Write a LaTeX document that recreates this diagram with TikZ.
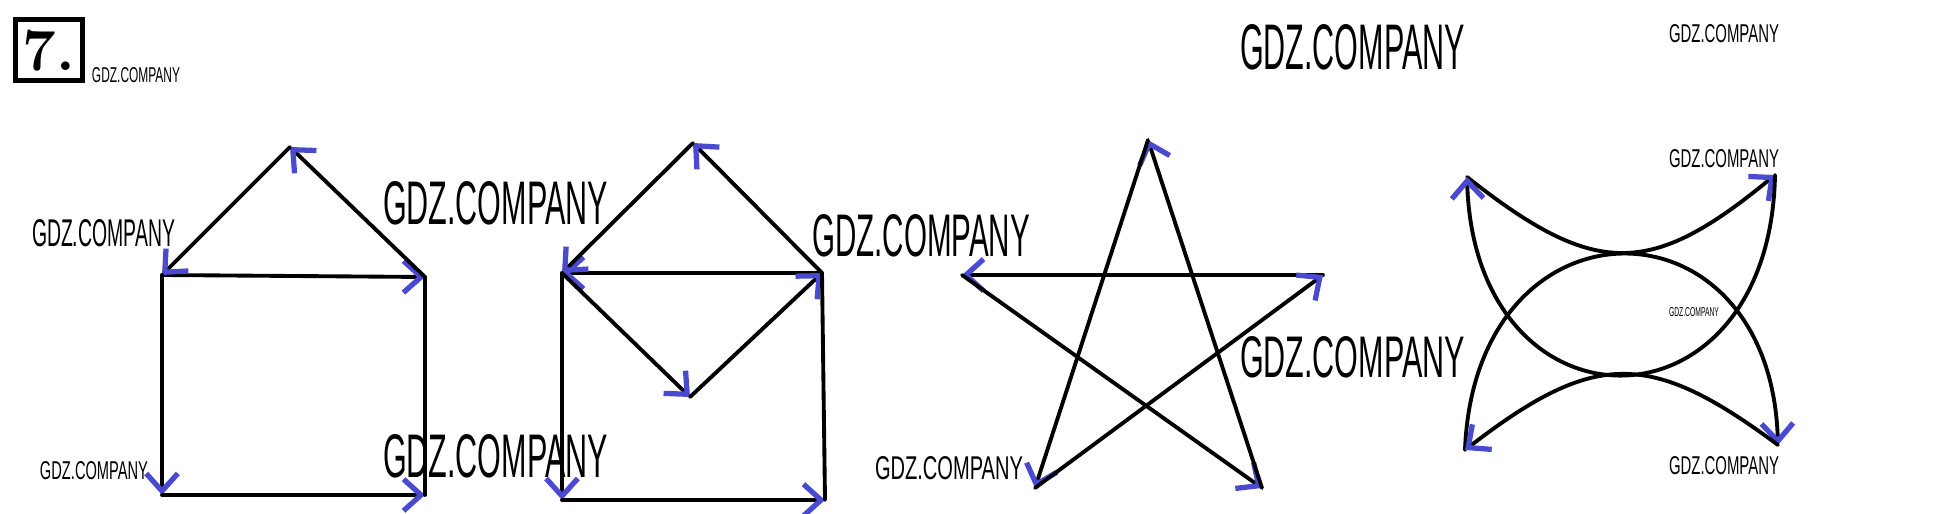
\documentclass[tikz,border=0pt]{standalone}
\usepackage{fontspec}
\setsansfont{Liberation Sans}
\usepackage{graphicx}
\usetikzlibrary{arrows.meta}
\definecolor{pencil}{HTML}{4A4AD0}
\newlength{\pxu}
\setlength{\pxu}{0.1mm}
\newcommand{\gdz}[2]{\resizebox{#1\pxu}{#2\pxu}{\sffamily GDZ.COMPANY}}

\begin{document}
\begin{tikzpicture}[x=0.1mm,y=-0.1mm,
    pen/.style={line width=1.1pt,line cap=round,line join=round},
    penarrow/.style={pen,-{Straight Barb[color=pencil,length=5pt,width=9pt,line width=1.5pt]}},
    wm/.style={anchor=north west,inner sep=0pt,outer sep=0pt}]
    \useasboundingbox (0,0) rectangle (1960,514);

    % task number in its frame
    \draw[line width=1.6pt] (15.5,19.5) rectangle (82.5,80.5);
    \node[inner sep=0pt,font=\bfseries\fontsize{17}{17}\selectfont] (num) at (49,51) {7.};

    % house: square with a roof
    \coordinate (hA) at (290,147);
    \coordinate (hL) at (162,275);
    \coordinate (hR) at (425,277);
    \coordinate (hBL) at (162,495);
    \coordinate (hBR) at (425,495);
    \draw[penarrow] (hL) -- (hR);
    \draw[penarrow] (hR) -- (hA);
    \draw[penarrow] (hA) -- (hL);
    \draw[penarrow] (hL) -- (hBL);
    \draw[penarrow] (hBL) -- (hBR);
    \draw[pen] (hBR) -- (hR);

    % envelope: square with a rhombus
    \coordinate (eA) at (693,143);
    \coordinate (eL) at (562,273);
    \coordinate (eR) at (822,273);
    \coordinate (eV) at (690,397);
    \coordinate (eBL) at (562,500);
    \coordinate (eBR) at (825,500);
    \draw[penarrow] (eR) -- (eL);
    \draw[penarrow] (eL) -- (eV);
    \draw[penarrow] (eV) -- (eR);
    \draw[penarrow] (eR) -- (eA);
    \draw[penarrow] (eA) -- (eL);
    \draw[penarrow] (eL) -- (eBL);
    \draw[penarrow] (eBL) -- (eBR);
    \draw[pen] (eBR) -- (eR);

    % five-pointed star
    \coordinate (sT) at (1148,140);
    \coordinate (sL) at (962,275);
    \coordinate (sR) at (1323,275);
    \coordinate (sBL) at (1035,488);
    \coordinate (sBR) at (1262,488);
    \draw[penarrow] (sR) -- (sL);
    \draw[penarrow] (sL) -- (sBR);
    \draw[penarrow] (sBR) -- (sT);
    \draw[penarrow] (sT) -- (sBL);
    \draw[penarrow] (sBL) -- (sR);

    % four arcs
    \coordinate (cTL) at (1467,177);
    \coordinate (cTR) at (1775,175);
    \coordinate (cBL) at (1465,450);
    \coordinate (cBR) at (1778,445);
    \draw[penarrow] (cTL) .. controls (1595,278) and (1650,278) .. (cTR);
    \draw[penarrow] (cTR) .. controls (1770,441) and (1475,441) .. (cTL);
    \draw[penarrow] (cBL) .. controls (1475,190) and (1770,190) .. (cBR);
    \draw[penarrow] (cBR) .. controls (1650,350) and (1595,350) .. (cBL);

    % watermarks
    \foreach \x/\y/\w/\h [count=\i] in {92/68/88/15,1240/25/225/45,1669/25/110/18,
        383/182/225/43,32/220/143/27,812/215/218/42,1669/150/110/18,1240/337/225/41,
        1669/308/50/9,40/462/108/18,383/435/225/43,875/457/148/23,1669/457/110/18} {
      \node[wm] (wm\i) at (\x,\y) {\gdz{\w}{\h}};
    }
\end{tikzpicture}
\end{document}
